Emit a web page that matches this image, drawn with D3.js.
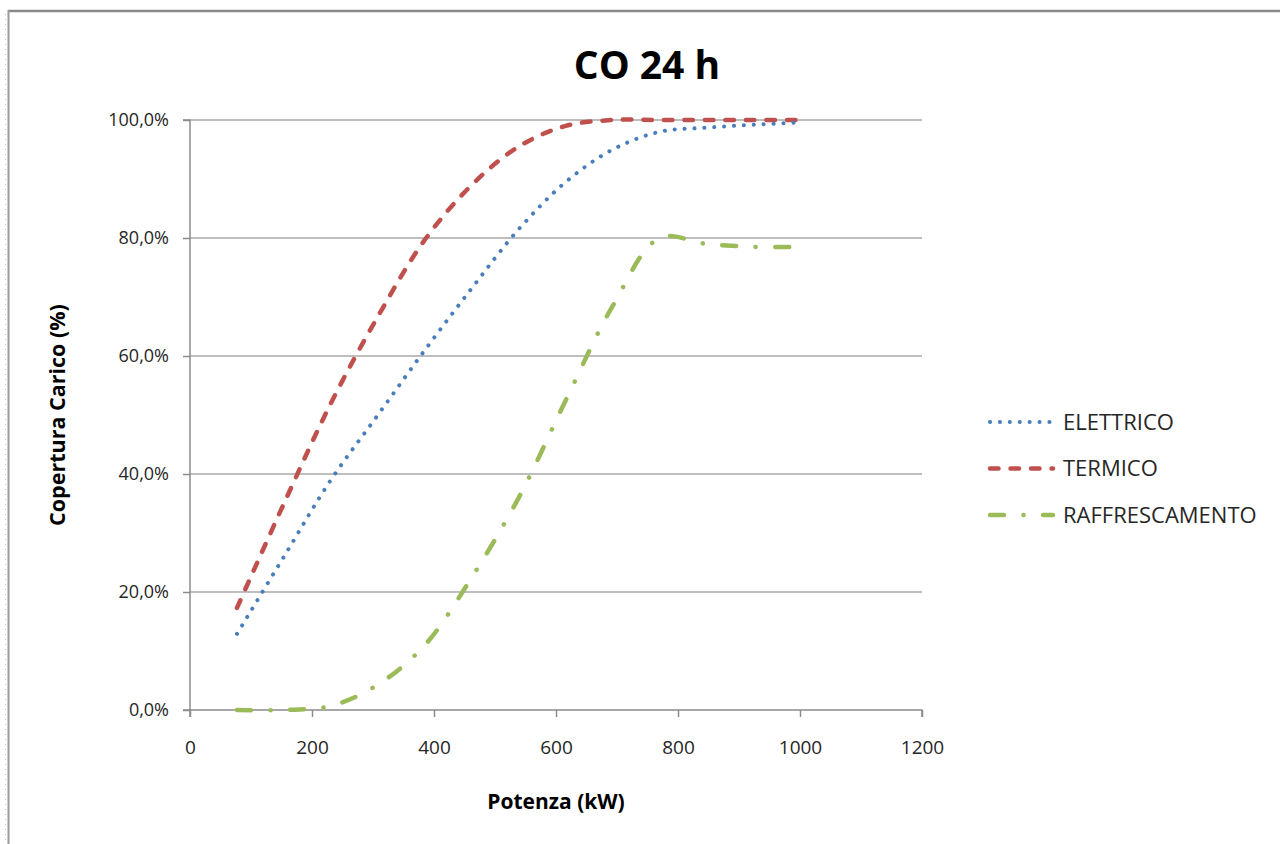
<!DOCTYPE html>
<html>
<head>
<meta charset="utf-8">
<script src="https://cdn.jsdelivr.net/npm/d3@7/dist/d3.min.js"></script>
<style>
  html, body { margin: 0; padding: 0; background: #fff; }
  svg { display: block; }
</style>
</head>
<body>
<svg id="chart" width="1280" height="844"></svg>
<script>
// Potenza installata (kW) e copertura del carico per ciascun vettore
const potenza        = [77, 154, 231, 308, 385, 462, 539, 616, 693, 770, 847, 924, 1000];
const elettrico      = [0.129, 0.26, 0.39, 0.50, 0.61, 0.715, 0.815, 0.895, 0.95, 0.98, 0.987, 0.992, 0.996];
const termico        = [0.173, 0.35, 0.52, 0.667, 0.797, 0.89, 0.955, 0.99, 1.0, 1.0, 1.0, 1.0, 1.0];
const raffrescamento = [0.0, 0.0, 0.007, 0.043, 0.11, 0.225, 0.36, 0.525, 0.685, 0.80, 0.79, 0.785, 0.785];

const seriesNames = ["ELETTRICO", "TERMICO", "RAFFRESCAMENTO"];
const xTicks = [0, 200, 400, 600, 800, 1000, 1200];
const yTicks = [0, 0.2, 0.4, 0.6, 0.8, 1.0];

const chartTitle = "CO 24 h";
const xTitle = "Potenza (kW)";
const yTitle = "Copertura Carico (%)";

const it = d3.formatLocale({ decimal: ",", thousands: ".", grouping: [3], currency: ["€", ""] });
const pct = it.format(".1%");

const svg = d3.select("#chart");
const font = "'Open Sans', 'DejaVu Sans', sans-serif";

// cornice della finestra
svg.append("line").attr("x1", 8).attr("x2", 1280).attr("y1", 11).attr("y2", 11)
  .attr("stroke", "#8a8a8a").attr("stroke-width", 2.5);
svg.append("line").attr("x1", 8.5).attr("x2", 8.5).attr("y1", 10).attr("y2", 844)
  .attr("stroke", "#9a9a9a").attr("stroke-width", 2);
svg.append("line").attr("x1", 5.5).attr("x2", 5.5).attr("y1", 14).attr("y2", 844)
  .attr("stroke", "#c8c8c8").attr("stroke-width", 1).attr("stroke-dasharray", "1 4");

const x = d3.scaleLinear().domain([0, 1200]).range([190, 922]);
const y = d3.scaleLinear().domain([0, 1]).range([710, 120]);

// griglia orizzontale
svg.append("g").selectAll("line").data(yTicks.filter(v => v > 0)).join("line")
  .attr("x1", x(0)).attr("x2", x(1200))
  .attr("y1", d => y(d)).attr("y2", d => y(d))
  .attr("stroke", "#a8a8a8").attr("stroke-width", 1.5);

// assi
const yAxis = d3.axisLeft(y).tickValues(yTicks).tickFormat(pct).tickSize(7).tickPadding(14);
const xAxis = d3.axisBottom(x).tickValues(xTicks).tickFormat(d3.format("d")).tickSize(7).tickPadding(24);

const gy = svg.append("g").attr("transform", `translate(${x(0)},0)`).call(yAxis);
const gx = svg.append("g").attr("transform", `translate(0,${y(0)})`).call(xAxis);
[gx, gy].forEach(g => {
  g.select(".domain").attr("stroke", "#8c8c8c").attr("stroke-width", 1.5);
  g.selectAll(".tick line").attr("stroke", "#8c8c8c").attr("stroke-width", 1.5);
  g.selectAll(".tick text").attr("fill", "#262626")
    .style("font-family", font).style("font-size", "18px");
});
gx.selectAll(".tick text").style("font-size", "19px");
gy.select(".domain").attr("d", `M-7,${y(1)}H0V${y(0)}H-7`);
gx.select(".domain").attr("d", `M${x(0)},7V0H${x(1200)}V7`);

// serie
const series = [
  { name: seriesNames[0], values: elettrico, color: "#4a7ebb", width: 4, dash: "0.1 9.8", cap: "round" },
  { name: seriesNames[1], values: termico, color: "#c0504d", width: 4.5, dash: "8.5 12", cap: "round" },
  { name: seriesNames[2], values: raffrescamento, color: "#9bbb59", width: 4.5, dash: "14 19.5 0.1 19.5", cap: "round" }
];

const line = d3.line()
  .x(d => x(d[0]))
  .y(d => y(d[1]))
  .curve(d3.curveCatmullRom.alpha(0.5));

svg.append("g").selectAll("path").data(series.slice().reverse()).join("path")
  .attr("d", s => line(potenza.map((p, i) => [p, s.values[i]])))
  .attr("fill", "none")
  .attr("stroke", s => s.color)
  .attr("stroke-width", s => s.width)
  .attr("stroke-dasharray", s => s.dash)
  .attr("stroke-linecap", s => s.cap);

// titolo
svg.append("text").attr("x", 647).attr("y", 79).attr("text-anchor", "middle")
  .style("font-family", font).style("font-weight", "bold").style("font-size", "39px")
  .attr("fill", "#000").text(chartTitle);

// titoli degli assi
svg.append("text").attr("x", (x(0) + x(1200)) / 2).attr("y", 809).attr("text-anchor", "middle")
  .style("font-family", font).style("font-weight", "bold").style("font-size", "21px")
  .attr("fill", "#000").text(xTitle);
svg.append("text").attr("transform", `translate(65,${(y(0) + y(1)) / 2}) rotate(-90)`)
  .attr("text-anchor", "middle")
  .style("font-family", font).style("font-weight", "bold").style("font-size", "21.5px")
  .attr("fill", "#000").text(yTitle);

// legenda
const legend = svg.append("g").selectAll("g").data(series).join("g")
  .attr("transform", (d, i) => `translate(988,${422 + i * 46.5})`);
legend.append("line").attr("x1", 2).attr("x2", 65).attr("y1", 0).attr("y2", 0)
  .attr("stroke", d => d.color).attr("stroke-width", d => d.width)
  .attr("stroke-dasharray", d => d.dash).attr("stroke-linecap", d => d.cap);
legend.append("text").attr("x", 75).attr("y", 0).attr("dy", "0.36em")
  .style("font-family", font).style("font-size", "22px").attr("fill", "#262626")
  .text(d => d.name);
</script>
</body>
</html>
